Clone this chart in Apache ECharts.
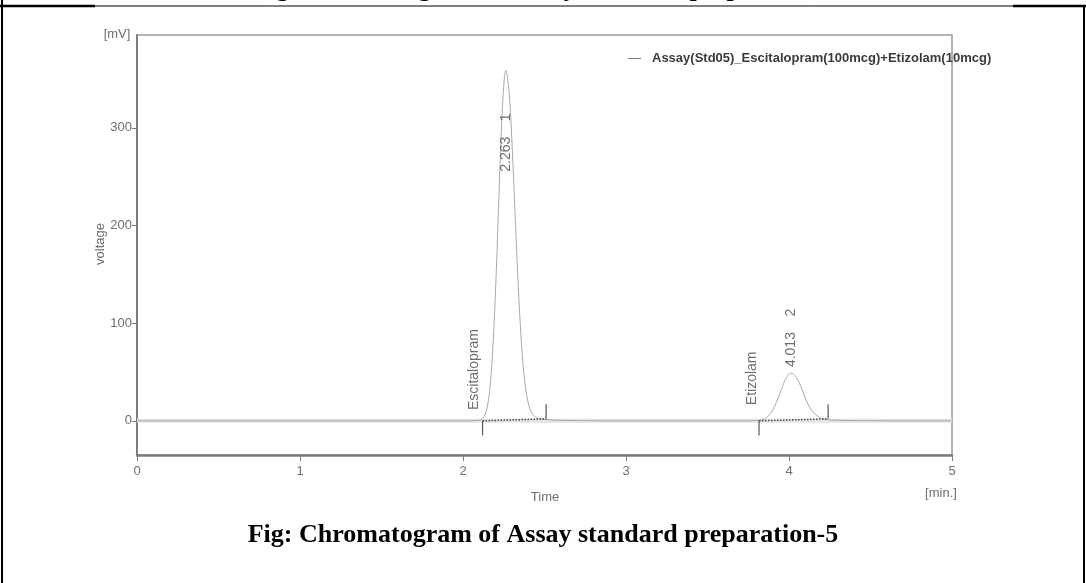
<!DOCTYPE html>
<html>
<head>
<meta charset="utf-8">
<script src="https://cdn.jsdelivr.net/npm/echarts@6/dist/echarts.min.js"></script>
<style>
  html, body { margin: 0; padding: 0; background: #ffffff; }
  #chart { width: 1086px; height: 583px; }
</style>
</head>
<body>
<div id="chart"></div>
<script>
// Detector trace: retention time (min) and signal (mV)
const traceTime = [
  0, 1.0, 2.0,
  2.103, 2.123, 2.143, 2.163, 2.183, 2.203, 2.223, 2.243, 2.263,
  2.283, 2.303, 2.323, 2.343, 2.363, 2.383, 2.403, 2.423, 2.443, 2.463, 2.503, 2.6,
  3.0, 3.7,
  3.803, 3.833, 3.863, 3.893, 3.923, 3.953, 3.983, 4.013,
  4.043, 4.073, 4.103, 4.133, 4.163, 4.193, 4.223, 4.263, 4.4,
  5.0
];
const traceMV = [
  0, 0, 0,
  0.6, 3, 10, 30, 74, 148, 242, 325, 359,
  336, 276, 198, 125, 69, 35, 16, 8, 4, 2.5, 1.5, 0.5,
  0, 0,
  0.3, 1.1, 3.4, 9, 19, 32, 44, 49,
  45, 35, 22, 12, 6.5, 3, 1.5, 0.8, 0.2,
  0
];

// Integrated peaks
const peakNumbers = [1, 2];
const peakRT = [2.263, 4.013];
const compoundNames = ['Escitalopram', 'Etizolam'];
const integStart = [2.12, 3.816];
const integEnd = [2.51, 4.24];
const integStartMV = [0, 0];
const integEndMV = [2, 2];

// Axis ticks
const xTicks = [0, 1, 2, 3, 4, 5];
const yTicks = [0, 100, 200, 300];

const seriesName = 'Assay(Std05)_Escitalopram(100mcg)+Etizolam(10mcg)';

// Label anchors (mV) for the rotated peak texts
const rtLabelBase = [255, 55];
const nameLabelBase = [11, 16];
const nameLabelShift = [-0.05, -0.04];
const markerLen = 15;

const chart = echarts.init(document.getElementById('chart'), null, { renderer: 'canvas' });

const trace = traceTime.map((t, i) => [t, traceMV[i]]);

const series = [];

// light baseline band along 0 mV
series.push({
  type: 'line',
  data: [[xTicks[0], 0], [xTicks[xTicks.length - 1], 0]],
  symbol: 'none',
  silent: true,
  lineStyle: { color: '#e3e3e3', width: 4 },
  z: 1
});

series.push({
  name: seriesName,
  type: 'line',
  data: trace,
  symbol: 'none',
  smooth: 0.35,
  color: '#7a7a7a',
  lineStyle: { color: '#a9a9a9', width: 1 },
  z: 3
});

peakRT.forEach((rt, i) => {
  // dotted integration baseline
  series.push({
    type: 'line',
    data: [[integStart[i], integStartMV[i]], [integEnd[i], integEndMV[i]]],
    symbol: 'none',
    silent: true,
    lineStyle: { color: '#444', width: 1.5, type: [1.5, 1.5] },
    z: 4
  });
  // start marker (downwards) and end marker (upwards)
  series.push({
    type: 'line',
    data: [[integStart[i], integStartMV[i]], [integStart[i], integStartMV[i] - markerLen]],
    symbol: 'none', silent: true,
    lineStyle: { color: '#555', width: 1.2 }, z: 4
  });
  series.push({
    type: 'line',
    data: [[integEnd[i], integEndMV[i]], [integEnd[i], integEndMV[i] + markerLen]],
    symbol: 'none', silent: true,
    lineStyle: { color: '#555', width: 1.2 }, z: 4
  });
});

const sans = 'Liberation Sans, Arial, sans-serif';
const serif = 'Liberation Serif, Times New Roman, serif';
const peakLabel = {
  show: true,
  position: 'inside',
  rotate: 90,
  align: 'left',
  verticalAlign: 'middle',
  fontFamily: sans,
  fontSize: 14,
  color: '#4a4a4a'
};

// retention time + peak number labels
series.push({
  type: 'scatter',
  silent: true,
  symbolSize: 0,
  data: peakRT.map((rt, i) => ({
    value: [rt, rtLabelBase[i]],
    label: { formatter: rt.toFixed(3) + '    ' + peakNumbers[i] }
  })),
  label: peakLabel,
  z: 5
});

// compound name labels
series.push({
  type: 'scatter',
  silent: true,
  symbolSize: 0,
  data: compoundNames.map((name, i) => ({
    value: [integStart[i] + nameLabelShift[i], nameLabelBase[i]],
    label: { formatter: name }
  })),
  label: peakLabel,
  z: 5
});

const axisGray = '#7d7d7d';
const textGray = '#6e6e6e';
const captionText = 'Fig: Chromatogram of Assay standard preparation-5';
const prevCaptionText = 'Fig: Chromatogram of Assay standard preparation-4';

chart.setOption({
  animation: false,
  backgroundColor: '#ffffff',
  grid: {
    left: 137, right: 134, top: 35, bottom: 128,
    show: true, borderColor: '#9a9a9a', borderWidth: 1.5
  },
  legend: {
    data: [seriesName],
    left: 628, top: 52, padding: 0,
    icon: 'rect', itemWidth: 13, itemHeight: 1, itemGap: 10,
    itemStyle: { color: '#7a7a7a' },
    textStyle: { fontFamily: sans, fontSize: 13, fontWeight: 'bold', color: '#3a3a3a', padding: [0, 0, 0, 6] }
  },
  xAxis: {
    type: 'value',
    min: xTicks[0], max: xTicks[xTicks.length - 1], interval: 1,
    axisLine: { show: true, onZero: false, lineStyle: { color: axisGray, width: 2.5 } },
    axisTick: { show: true, length: 6, lineStyle: { color: axisGray, width: 1 } },
    axisLabel: { color: textGray, fontFamily: sans, fontSize: 13, margin: 10 },
    splitLine: { show: false }
  },
  yAxis: {
    type: 'value',
    min: -35, max: 395,
    axisLine: { show: true, lineStyle: { color: axisGray, width: 2 } },
    axisTick: { show: true, length: 5, customValues: yTicks, lineStyle: { color: axisGray } },
    axisLabel: { customValues: yTicks, color: textGray, fontFamily: sans, fontSize: 13, margin: 5 },
    splitLine: { show: false }
  },
  graphic: [
    // page frame
    { type: 'line', shape: { x1: 2, y1: 0, x2: 2, y2: 583 }, style: { stroke: '#000', lineWidth: 2 } },
    { type: 'line', shape: { x1: 1084, y1: 6, x2: 1084, y2: 583 }, style: { stroke: '#000', lineWidth: 2 } },
    { type: 'line', shape: { x1: 0, y1: 6, x2: 1086, y2: 6 }, style: { stroke: '#000', lineWidth: 1 } },
    { type: 'line', shape: { x1: 0, y1: 6, x2: 95, y2: 6 }, style: { stroke: '#000', lineWidth: 2.5 } },
    { type: 'line', shape: { x1: 1013, y1: 6, x2: 1086, y2: 6 }, style: { stroke: '#000', lineWidth: 2.5 } },
    // previous caption, mostly above the page edge
    { type: 'text', x: 253, y: 2,
      style: { text: prevCaptionText, font: 'bold 26px ' + serif, fill: '#000', verticalAlign: 'bottom' } },
    // caption
    { type: 'text', x: 543, y: 535,
      style: { text: captionText, font: 'bold 26px ' + serif, fill: '#000', align: 'center', verticalAlign: 'middle' } },
    // axis titles
    { type: 'text', x: 117, y: 34,
      style: { text: '[mV]', font: '13px ' + sans, fill: textGray, align: 'center', verticalAlign: 'middle' } },
    { type: 'text', x: 100, y: 244, rotation: Math.PI / 2,
      style: { text: 'voltage', font: '13px ' + sans, fill: textGray, align: 'center', verticalAlign: 'middle' } },
    { type: 'text', x: 545, y: 497,
      style: { text: 'Time', font: '13px ' + sans, fill: textGray, align: 'center', verticalAlign: 'middle' } },
    { type: 'text', x: 941, y: 493,
      style: { text: '[min.]', font: '13px ' + sans, fill: textGray, align: 'center', verticalAlign: 'middle' } }
  ],
  series: series
});
</script>
</body>
</html>
